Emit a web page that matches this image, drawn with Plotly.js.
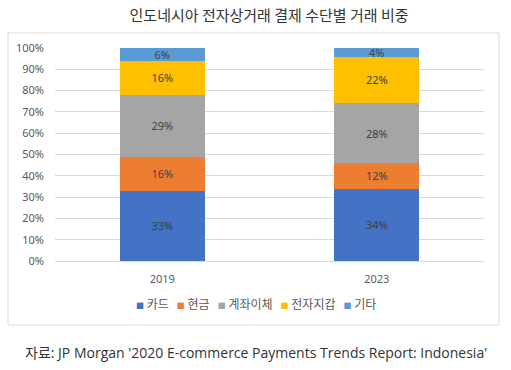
<!DOCTYPE html>
<html>
<head>
<meta charset="utf-8">
<script src="https://cdn.plot.ly/plotly-3.0.1.min.js"></script>
<style>
html,body{margin:0;padding:0;background:#fff;}
#chart{width:511px;height:370px;}
</style>
</head>
<body>
<div id="chart"></div>
<script>
const years = ['2019', '2023'];
const seriesNames = ['카드', '현금', '계좌이체', '전자지갑', '기타'];
const card = [33, 34];
const cash = [16, 12];
const transfer = [29, 28];
const ewallet = [16, 22];
const other = [6, 4];
const yTickVals = [0, 10, 20, 30, 40, 50, 60, 70, 80, 90, 100];
const yTickText = ['0%', '10%', '20%', '30%', '40%', '50%', '60%', '70%', '80%', '90%', '100%'];
const titleText = '인도네시아 전자상거래 결제 수단별 거래 비중';
const sourceText = "자료: JP Morgan '2020 E-commerce Payments Trends Report: Indonesia'";

const colors = ['#4472C4', '#ED7D31', '#A5A5A5', '#FFC000', '#5B9BD5'];
const values = [card, cash, transfer, ewallet, other];
const baseFont = 'Malgun Gothic, "Noto Sans", "Noto Sans CJK KR", sans-serif';

const traces = values.map((v, i) => ({
  type: 'bar',
  x: years,
  y: v,
  name: seriesNames[i],
  marker: {color: colors[i]},
  text: v.map(d => d + '%'),
  textposition: 'inside',
  insidetextanchor: 'middle',
  textfont: {color: '#404040', size: 11, family: baseFont},
  hoverinfo: 'skip',
  showlegend: false
}));

const L = 55, R = 484, T = 48, B = 261;
const pw = R - L, ph = B - T;
const px = x => (x - L) / pw;
const py = y => (B - y) / ph;

// compact legend built from the series names and colours
const legendText = seriesNames.map((n, i) =>
  '<span style="color:' + colors[i] + ';font-size:8px">■</span>&nbsp;' + n
).join('&nbsp;&nbsp;&nbsp;');

const layout = {
  width: 511, height: 370,
  margin: {l: L, r: 511 - R, t: T, b: 370 - B, pad: 0},
  paper_bgcolor: '#fff', plot_bgcolor: '#fff',
  barmode: 'stack',
  bargap: 0.604,
  font: {family: baseFont, color: '#595959', size: 11},
  uniformtext: {minsize: 11, mode: 'show'},
  title: {
    text: titleText,
    font: {family: '"Noto Sans CJK KR", sans-serif', size: 15, color: '#333'},
    x: 255 / 511, xanchor: 'center', xref: 'paper',
    y: 1 - 16 / 370, yanchor: 'middle', yref: 'container'
  },
  xaxis: {
    type: 'category',
    showgrid: false,
    showline: true, linecolor: '#d9d9d9', linewidth: 1,
    ticks: '', ticklabelstandoff: 8,
    tickfont: {size: 11, color: '#595959'},
    fixedrange: true
  },
  yaxis: {
    range: [0, 100],
    tickvals: yTickVals, ticktext: yTickText,
    showgrid: true, gridcolor: '#d9d9d9', gridwidth: 1,
    zeroline: false, showline: false,
    ticks: '', ticklabelstandoff: 10,
    tickfont: {size: 11, color: '#595959'},
    fixedrange: true
  },
  showlegend: false,
  shapes: [{
    type: 'rect', xref: 'paper', yref: 'paper',
    x0: px(8), x1: px(499), y0: py(325), y1: py(33),
    line: {color: '#d9d9d9', width: 1}, fillcolor: 'rgba(0,0,0,0)', layer: 'below'
  }],
  annotations: [{
    text: legendText, showarrow: false,
    xref: 'paper', yref: 'paper',
    x: px(256), xanchor: 'center', y: py(303), yanchor: 'middle',
    font: {family: '"Noto Sans CJK KR", sans-serif', size: 12, color: '#595959'}
  }, {
    text: sourceText, showarrow: false,
    xref: 'paper', yref: 'paper',
    x: px(255.5), xanchor: 'center', y: py(352), yanchor: 'middle',
    font: {family: '"Open Sans", "Noto Sans CJK KR", sans-serif', size: 14, color: '#333'}
  }]
};

Plotly.newPlot('chart', traces, layout, {displayModeBar: false, staticPlot: true});
</script>
</body>
</html>
